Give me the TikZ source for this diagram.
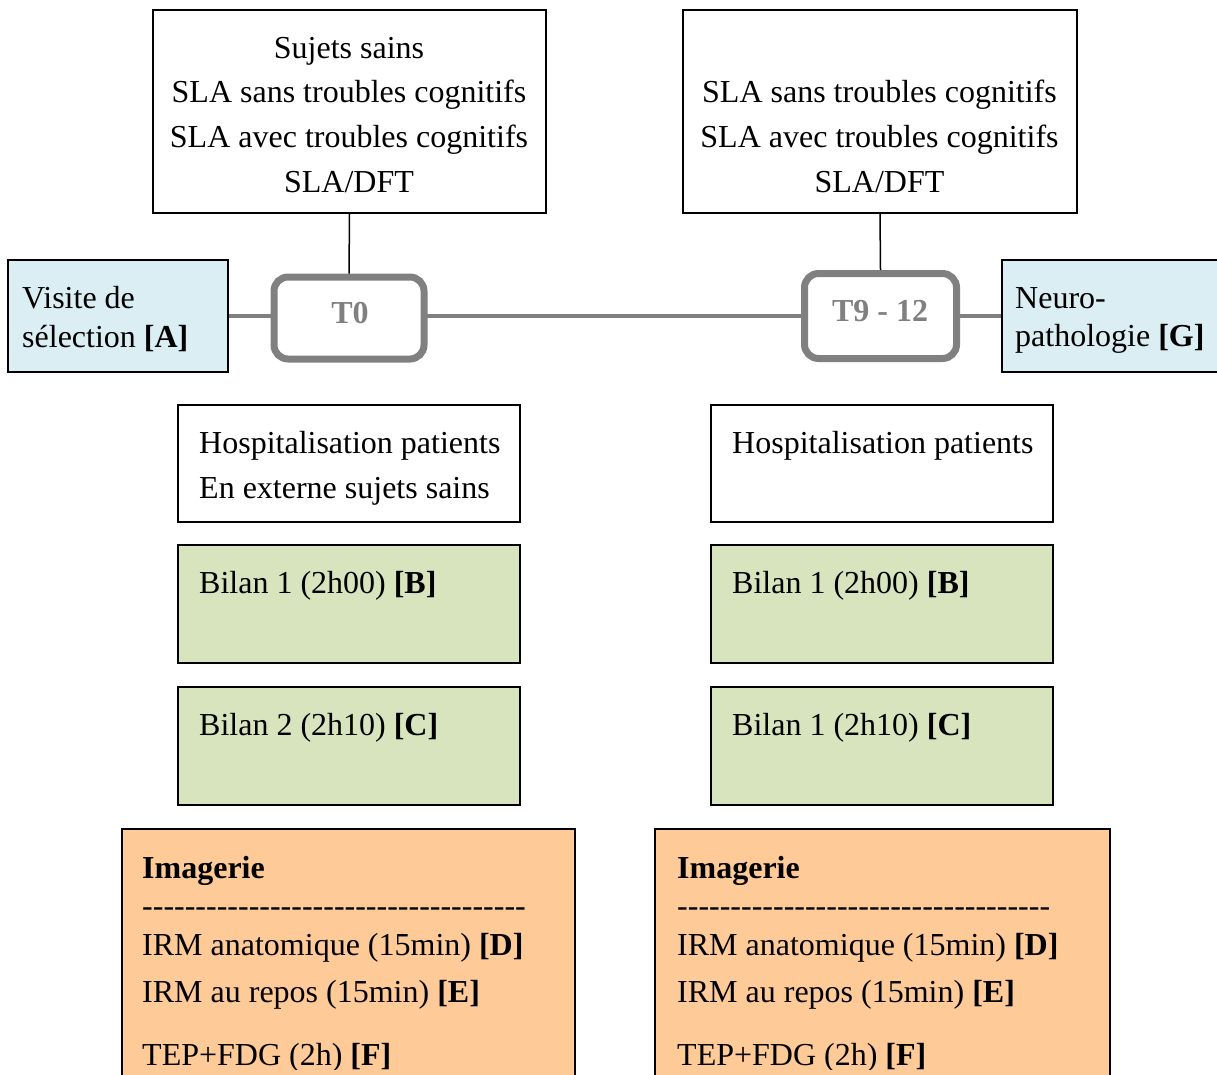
\documentclass[tikz,border=0pt]{standalone}
\usepackage{fontspec}
\setmainfont{Liberation Serif}
\definecolor{bluefill}{HTML}{DAEEF3}
\definecolor{greenfill}{HTML}{D7E4BD}
\definecolor{orangefill}{HTML}{FDCA98}
\definecolor{tgray}{HTML}{808080}
\newcommand\hy{\mbox{-}}
\newcommand\hyten{\hy\hy\hy\hy\hy\hy\hy\hy\hy\hy}
\tikzset{
  box/.style={draw=black, line width=1.5pt, inner sep=0pt, minimum width=#1},
  tbox/.style={draw=tgray, line width=7pt, rounded corners=14pt, fill=white, inner sep=0pt},
  txt/.style={inner sep=0pt, font=\fontsize{32}{40}\selectfont},
  ttxt/.style={inner sep=0pt, font=\fontsize{32}{40}\selectfont\bfseries, text=tgray},
  blackline/.style={draw=black, line width=1.5pt},
  grayline/.style={draw=tgray, line width=4pt}
}
\begin{document}
\begin{tikzpicture}[x=1pt,y=-1pt]
\useasboundingbox (0,0) rectangle (1217,1074);
\clip (0,0) rectangle (1217,1074);
% top boxes
\node[box=393pt, minimum height=203pt] (topL) at (349.5,111.5) {};
\node[box=394pt, minimum height=203pt] (topR) at (880,111.5) {};
% side boxes
\node[box=220pt, minimum height=112pt, fill=bluefill] (visite) at (118,316) {};
\node[box=238pt, minimum height=112pt, fill=bluefill] (neuro) at (1121,316) {};
% connectors (drawn under the time boxes)
\draw[grayline] (visite.east) -- (visite.east -| 349,0) coordinate (c0);
\draw[grayline] (c0) -- (visite.east -| 880,0) coordinate (c9);
\draw[grayline] (c9) -- (neuro.west);
% time boxes
\node[tbox, minimum width=150pt, minimum height=82pt] (T0) at (349,318) {};
\node[tbox, minimum width=152pt, minimum height=85pt] (T9) at (880.5,316) {};
\draw[blackline] (topL.south) -- (T0.north);
\draw[blackline] (topR.south) -- (T9.north);
% hospitalisation
\node[box=342pt, minimum height=117pt] (hospL) at (349,463.5) {};
\node[box=342pt, minimum height=117pt] (hospR) at (882,463.5) {};
% bilans
\node[box=342pt, minimum height=118pt, fill=greenfill] (b1L) at (349,604) {};
\node[box=342pt, minimum height=118pt, fill=greenfill] (b2L) at (349,746) {};
\node[box=342pt, minimum height=118pt, fill=greenfill] (b1R) at (882,604) {};
\node[box=342pt, minimum height=118pt, fill=greenfill] (b2R) at (882,746) {};
% imagerie
\node[box=453pt, minimum height=271pt, fill=orangefill] (imgL) at (348.5,964.5) {};
\node[box=455pt, minimum height=271pt, fill=orangefill] (imgR) at (882.5,964.5) {};
% texts: top boxes
\node[txt, anchor=base] (tl1) at (349,58) {Sujets sains};
\node[txt, anchor=base] (tl2) at (349,102) {SLA sans troubles cognitifs};
\node[txt, anchor=base] (tl3) at (349,147) {SLA avec troubles cognitifs};
\node[txt, anchor=base] (tl4) at (349,192) {SLA/DFT};
\node[txt, anchor=base] (tr2) at (879.5,102) {SLA sans troubles cognitifs};
\node[txt, anchor=base] (tr3) at (879.5,147) {SLA avec troubles cognitifs};
\node[txt, anchor=base] (tr4) at (879.5,192) {SLA/DFT};
% side texts
\node[txt, anchor=base west] (v1) at (22,308) {Visite de};
\node[txt, anchor=base west] (v2) at (22,347) {sélection \textbf{[A]}};
\node[txt, anchor=base west] (n1) at (1015,308) {Neuro-};
\node[txt, anchor=base west] (n2) at (1015,346) {pathologie \textbf{[G]}};
% time texts
\node[ttxt, anchor=base] (t0t) at (350,323) {T0};
\node[ttxt, anchor=base] (t9t) at (880,321) {T9 - 12};
% hospitalisation texts
\node[txt, anchor=base west] (h1) at (199,453) {Hospitalisation patients};
\node[txt, anchor=base west] (h2) at (199,498) {En externe sujets sains};
\node[txt, anchor=base west] (h3) at (732,453) {Hospitalisation patients};
% bilan texts
\node[txt, anchor=base west] (bt1) at (199,593) {Bilan 1 (2h00) \textbf{[B]}};
\node[txt, anchor=base west] (bt2) at (199,735) {Bilan 2 (2h10) \textbf{[C]}};
\node[txt, anchor=base west] (bt3) at (732,593) {Bilan 1 (2h00) \textbf{[B]}};
\node[txt, anchor=base west] (bt4) at (732,735) {Bilan 1 (2h10) \textbf{[C]}};
% imagerie texts
\node[txt, anchor=base west] (i1) at (142,878) {\textbf{Imagerie}};
\node[txt, anchor=base west] (i2) at (142,916) {\hyten\hyten\hyten\hy\hy\hy\hy\hy\hy};
\node[txt, anchor=base west] (i3) at (142,955) {IRM anatomique (15min) \textbf{[D]}};
\node[txt, anchor=base west] (i4) at (142,1002) {IRM au repos (15min) \textbf{[E]}};
\node[txt, anchor=base west] (j1) at (677,878) {\textbf{Imagerie}};
\node[txt, anchor=base west] (j2) at (677,916) {\hyten\hyten\hyten\hy\hy\hy\hy\hy};
\node[txt, anchor=base west] (j3) at (677,955) {IRM anatomique (15min) \textbf{[D]}};
\node[txt, anchor=base west] (j4) at (677,1002) {IRM au repos (15min) \textbf{[E]}};
\begin{scope}
\clip (0,0) rectangle (1217,1069);
\node[txt, anchor=base west] (i5) at (142,1065) {TEP+FDG (2h) \textbf{[F]}};
\node[txt, anchor=base west] (j5) at (677,1065) {TEP+FDG (2h) \textbf{[F]}};
\end{scope}
\end{tikzpicture}
\end{document}
